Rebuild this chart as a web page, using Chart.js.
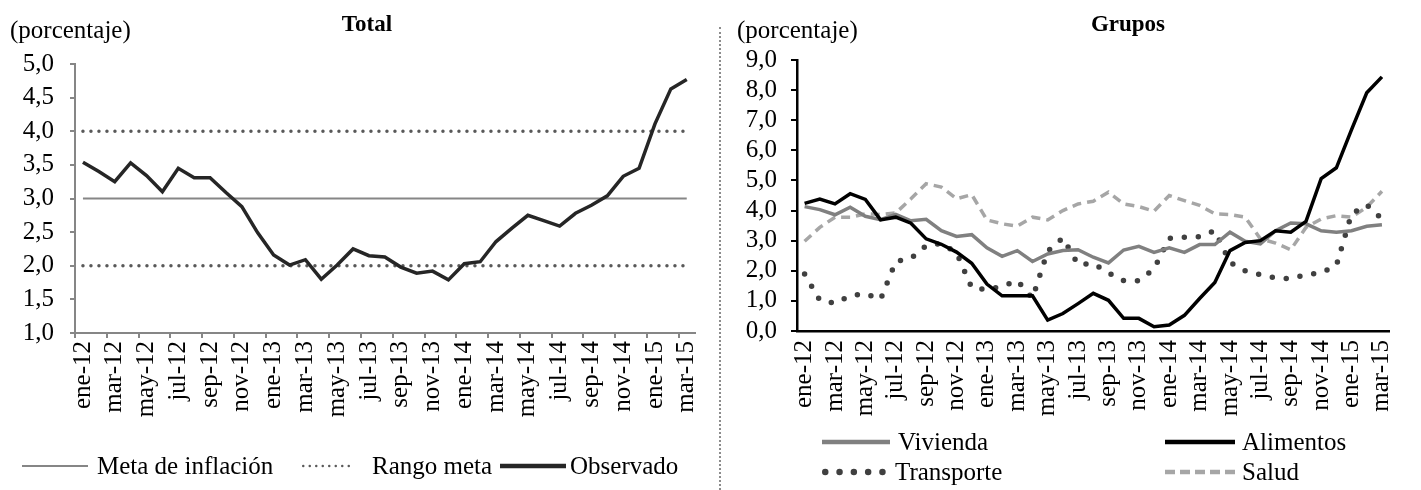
<!DOCTYPE html>
<html lang="es">
<head>
<meta charset="utf-8">
<script src="https://cdn.jsdelivr.net/npm/chart.js@4.4.1/dist/chart.umd.min.js"></script>
<style>
    body { margin: 0; background: #fff; width: 1421px; height: 490px; overflow: hidden; position: relative; font-family: "Liberation Serif", "Times New Roman", serif; }
    #leftChart { position: absolute; left: 0; top: 0; }
    #rightChart { position: absolute; left: 720px; top: 0; }
    .sep { position: absolute; left: 719px; top: 27px; height: 463px; border-left: 2px dotted #8c8c8c; }
    .leg { position: absolute; height: 30px; font-size: 25px; line-height: 30px; color: #000; white-space: nowrap; display: flex; align-items: center; }
    .leg svg { display: block; }
</style>
</head>
<body>
<canvas id="leftChart" width="720" height="490"></canvas>
<canvas id="rightChart" width="701" height="490"></canvas>
<div class="sep"></div>
<div id="legends"></div>

<script>
// Months ene-12 .. mar-15
const labels = [
    'ene-12','feb-12','mar-12','abr-12','may-12','jun-12','jul-12','ago-12','sep-12','oct-12','nov-12','dic-12',
    'ene-13','feb-13','mar-13','abr-13','may-13','jun-13','jul-13','ago-13','sep-13','oct-13','nov-13','dic-13',
    'ene-14','feb-14','mar-14','abr-14','may-14','jun-14','jul-14','ago-14','sep-14','oct-14','nov-14','dic-14',
    'ene-15','feb-15','mar-15'
];

// Total (left panel)
const observado = [3.54, 3.40, 3.25, 3.53, 3.34, 3.10, 3.45, 3.31, 3.31, 3.09, 2.88, 2.49, 2.16, 2.01, 2.09, 1.80, 2.01, 2.25, 2.15, 2.13,
    1.98, 1.89, 1.92, 1.79, 2.03, 2.06, 2.36, 2.56, 2.75, 2.67, 2.59, 2.78, 2.90, 3.04, 3.33, 3.45, 4.11, 4.63, 4.77];
const metaInflacion = [3,3,3,3,3,3,3,3,3,3,3,3,3,3,3,3,3,3,3,3,3,3,3,3,3,3,3,3,3,3,3,3,3,3,3,3,3,3,3];
const rangoInferior = [2,2,2,2,2,2,2,2,2,2,2,2,2,2,2,2,2,2,2,2,2,2,2,2,2,2,2,2,2,2,2,2,2,2,2,2,2,2,2];
const rangoSuperior = [4,4,4,4,4,4,4,4,4,4,4,4,4,4,4,4,4,4,4,4,4,4,4,4,4,4,4,4,4,4,4,4,4,4,4,4,4,4,4];

// Grupos (right panel)
const vivienda = [4.13, 4.03, 3.86, 4.11, 3.81, 3.70, 3.87, 3.66, 3.71, 3.33, 3.14, 3.20, 2.76, 2.48, 2.67, 2.31, 2.56, 2.67, 2.70, 2.45,
    2.26, 2.69, 2.81, 2.61, 2.76, 2.61, 2.87, 2.87, 3.28, 2.98, 2.89, 3.33, 3.59, 3.56, 3.33, 3.28, 3.33, 3.48, 3.53];
const alimentos = [4.24, 4.38, 4.22, 4.56, 4.37, 3.69, 3.78, 3.58, 3.06, 2.88, 2.62, 2.25, 1.56, 1.17, 1.17, 1.17, 0.36, 0.58, 0.91, 1.25,
    1.02, 0.42, 0.42, 0.14, 0.20, 0.52, 1.08, 1.61, 2.67, 2.94, 3.00, 3.33, 3.28, 3.64, 5.06, 5.42, 6.69, 7.91, 8.44];
const transporte = [1.89, 1.02, 0.92, 1.17, 1.24, 1.05, 2.31, 2.41, 2.83, 2.91, 2.60, 1.44, 1.37, 1.48, 1.67, 1.09, 2.65, 3.09, 2.21, 2.24,
    1.93, 1.67, 1.67, 2.06, 3.08, 3.11, 3.13, 3.33, 2.28, 2.00, 1.87, 1.76, 1.74, 1.87, 1.94, 2.17, 3.89, 4.19, 3.72];
const salud = [2.98, 3.44, 3.78, 3.78, 3.89, 3.87, 3.92, 4.39, 4.89, 4.78, 4.39, 4.53, 3.69, 3.56, 3.48, 3.78, 3.69, 4.00, 4.22, 4.31,
    4.61, 4.22, 4.13, 3.98, 4.50, 4.33, 4.17, 3.89, 3.87, 3.78, 3.06, 2.92, 2.70, 3.44, 3.72, 3.83, 3.78, 4.11, 4.64];

const FONT = '"Liberation Serif", "Times New Roman", serif';

// Draws the "(porcentaje)" unit and the bold panel title
const headings = {
    id: 'headings',
    afterDraw(chart, args, opts) {
        const ctx = chart.ctx;
        ctx.save();
        ctx.fillStyle = '#000';
        ctx.textBaseline = 'alphabetic';
        ctx.textAlign = 'left';
        ctx.font = '25px ' + FONT;
        ctx.fillText(opts.unit, opts.unitX, 38);
        ctx.textAlign = 'center';
        ctx.font = 'bold 23px ' + FONT;
        ctx.fillText(opts.title, opts.titleX, 31);
        ctx.restore();
    }
};

const commaFmt = (v) => Number(v).toFixed(1).replace('.', ',');
const everyOther = (value, index) => index % 2 === 0 ? labels[index] : '';

function makeLine(label, data, color, width, order, extra) {
    return Object.assign({
        label: label,
        data: data,
        borderColor: color,
        backgroundColor: color,
        borderWidth: width,
        pointRadius: 0,
        tension: 0,
        fill: false,
        order: order,
    }, extra || {});
}

// Left: Total
new Chart(document.getElementById('leftChart'), {
    type: 'line',
    data: {
        labels: labels,
        datasets: [
            makeLine('Observado', observado, '#262626', 3.5, 0),
            makeLine('Meta de inflación', metaInflacion, '#868686', 2, 1),
            makeLine('Rango meta', rangoSuperior, '#595959', 3.5, 2, { borderDash: [0, 8], borderCapStyle: 'round' }),
            makeLine('Rango meta', rangoInferior, '#595959', 3.5, 3, { borderDash: [0, 8], borderCapStyle: 'round' }),
        ],
    },
    options: {
        responsive: false,
        animation: false,
        devicePixelRatio: 1,
        layout: { padding: { top: 64, right: 20, left: 0, bottom: 0 } },
        plugins: {
            legend: { display: false },
            tooltip: { enabled: false },
            headings: { unit: '(porcentaje)', unitX: 10, title: 'Total', titleX: 367 },
        },
        scales: {
            x: {
                offset: true,
                grid: {
                    offset: true,
                    drawOnChartArea: false,
                    tickLength: 5,
                    lineWidth: 2,
                    color: (c) => c.index % 2 === 0 ? '#868686' : 'rgba(0,0,0,0)',
                },
                border: { color: '#868686', width: 2 },
                ticks: {
                    autoSkip: false, minRotation: 90, maxRotation: 90, padding: 3,
                    color: '#000', font: { family: FONT, size: 25 },
                    callback: everyOther,
                },
                afterFit: (scale) => { scale.height = 157; },
            },
            y: {
                min: 1, max: 5,
                grid: { drawOnChartArea: false, tickLength: 5, lineWidth: 2, color: '#868686' },
                border: { color: '#868686', width: 2 },
                ticks: { stepSize: 0.5, autoSkip: false, padding: 16, color: '#000', font: { family: FONT, size: 25 }, callback: commaFmt },
                afterFit: (scale) => { scale.width = 75; },
            },
        },
    },
    plugins: [headings],
});

// Right: Grupos
new Chart(document.getElementById('rightChart'), {
    type: 'line',
    data: {
        labels: labels,
        datasets: [
            makeLine('Alimentos', alimentos, '#000000', 3.5, 0),
            makeLine('Vivienda', vivienda, '#808080', 3.5, 1),
            makeLine('Transporte', transporte, '#404040', 5.5, 2, { borderDash: [0, 14], borderCapStyle: 'round' }),
            makeLine('Salud', salud, '#a6a6a6', 3.5, 3, { borderDash: [9, 6] }),
        ],
    },
    options: {
        responsive: false,
        animation: false,
        devicePixelRatio: 1,
        layout: { padding: { top: 60, right: 5, left: 0, bottom: 0 } },
        plugins: {
            legend: { display: false },
            tooltip: { enabled: false },
            headings: { unit: '(porcentaje)', unitX: 17, title: 'Grupos', titleX: 408 },
        },
        scales: {
            x: {
                offset: true,
                grid: { display: false, drawTicks: false },
                border: { color: '#000', width: 2.5 },
                ticks: {
                    autoSkip: false, minRotation: 90, maxRotation: 90, padding: 9,
                    color: '#000', font: { family: FONT, size: 25 },
                    callback: everyOther,
                },
                afterFit: (scale) => { scale.height = 159; },
            },
            y: {
                min: 0, max: 9,
                grid: { drawOnChartArea: false, tickLength: 6, lineWidth: 2, color: '#000' },
                border: { color: '#000', width: 2.5 },
                ticks: { stepSize: 1, autoSkip: false, padding: 14, color: '#000', font: { family: FONT, size: 25 }, callback: commaFmt },
                afterFit: (scale) => { scale.width = 77; },
            },
        },
    },
    plugins: [headings],
});

// HTML legends with line samples
function sample(w, color, width, dash, cap) {
    const pad = cap === 'round' ? width / 2 : 0;
    return `<svg width="${w}" height="14"><line x1="${pad}" y1="7" x2="${w - pad}" y2="7" stroke="${color}" stroke-width="${width}"` +
        (dash ? ` stroke-dasharray="${dash}"` : '') + ` stroke-linecap="${cap || 'butt'}"/></svg>`;
}

const legendItems = [
    { text: 'Meta de inflación', x: 22, y: 466, svg: sample(66, '#868686', 2), gap: 9 },
    { text: 'Rango meta', x: 302, y: 466, svg: sample(50, '#595959', 2.5, '0 6.5', 'round'), gap: 20 },
    { text: 'Observado', x: 500, y: 466, svg: sample(66, '#262626', 4.5), gap: 4 },
    { text: 'Vivienda', x: 822, y: 442, svg: sample(68, '#808080', 4.5), gap: 8 },
    { text: 'Alimentos', x: 1165, y: 442, svg: sample(70, '#000000', 4.5), gap: 7 },
    { text: 'Transporte', x: 822, y: 472, svg: sample(64, '#404040', 6.5, '0 14.3', 'round'), gap: 9 },
    { text: 'Salud', x: 1165, y: 472, svg: sample(70, '#a6a6a6', 4.5, '10 5'), gap: 7 },
];

const legendBox = document.getElementById('legends');
legendItems.forEach(item => {
    const div = document.createElement('div');
    div.className = 'leg';
    div.style.left = item.x + 'px';
    div.style.top = (item.y - 15) + 'px';
    div.innerHTML = item.svg + `<span style="margin-left:${item.gap}px">${item.text}</span>`;
    legendBox.appendChild(div);
});
</script>
</body>
</html>
